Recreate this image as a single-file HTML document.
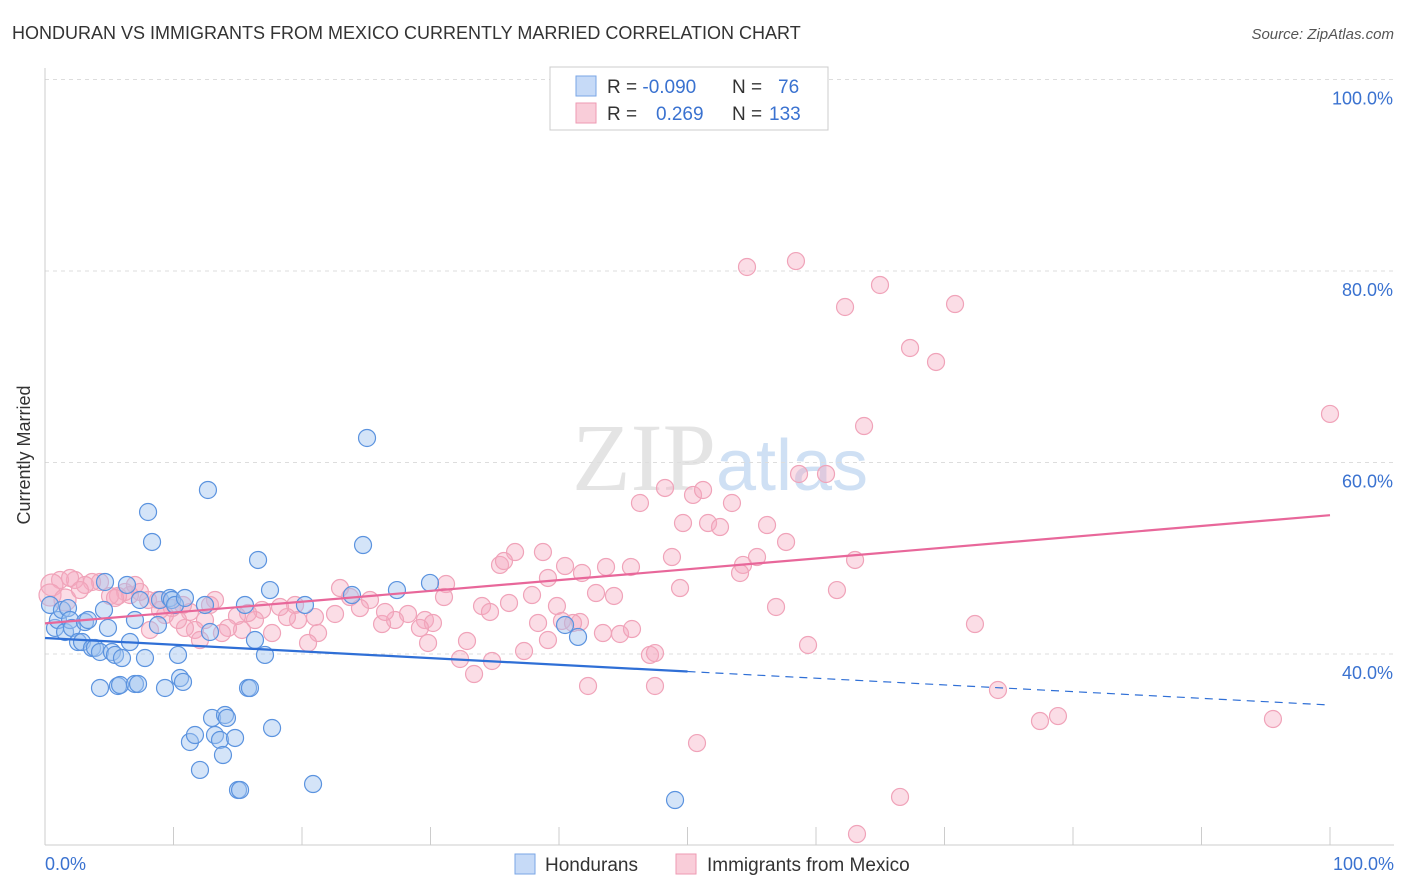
<!DOCTYPE html>
<html><head><meta charset="utf-8"><style>
body{margin:0;background:#fff;font-family:"Liberation Sans",sans-serif}
svg{display:block}
</style></head><body>
<svg id="c" width="1406" height="892" xmlns="http://www.w3.org/2000/svg">
<text x="12" y="39" font-size="18" fill="#333">HONDURAN VS IMMIGRANTS FROM MEXICO CURRENTLY MARRIED CORRELATION CHART</text>
<text x="1394" y="39" font-size="15" fill="#555" font-style="italic" text-anchor="end">Source: ZipAtlas.com</text>
<text x="720" y="490" font-size="96" fill="#e4e4e4" text-anchor="middle" font-family="Liberation Serif,serif">ZIP<tspan fill="#cfe0f4" font-family="Liberation Sans,sans-serif" font-size="72">atlas</tspan></text>
<g id="grid"></g>
<line x1="45" y1="68" x2="45" y2="845" stroke="#ccc"/>
<line x1="45" y1="845" x2="1394" y2="845" stroke="#ccc"/>
<text x="30" y="455" font-size="18" fill="#333" text-anchor="middle" transform="rotate(-90 30 455)">Currently Married</text>
<text x="45" y="870" font-size="18" fill="#3a72d0">0.0%</text>
<text x="1394" y="870" font-size="18" fill="#3a72d0" text-anchor="end">100.0%</text>
<g id="pts"></g>
<g id="lines"></g>
<g>
<rect x="550" y="67" width="278" height="63" fill="#fff" stroke="#ccc"/>
<rect x="576" y="76" width="20" height="20" fill="#c6daf7" stroke="#7aa6e6"/>
<rect x="576" y="103" width="20" height="20" fill="#f9cdd9" stroke="#ee9ab3"/>
<text x="607" y="93" font-size="19" fill="#333">R = <tspan fill="#3a72d0">-0.090</tspan><tspan x="732">N = </tspan><tspan x="778" fill="#3a72d0">76</tspan></text>
<text x="607" y="120" font-size="19" fill="#333">R = <tspan x="656" fill="#3a72d0">0.269</tspan><tspan x="732">N = </tspan><tspan x="769" fill="#3a72d0">133</tspan></text>
</g>
<g>
<rect x="515" y="854" width="20" height="20" fill="#c6daf7" stroke="#7aa6e6"/>
<text x="545" y="871" font-size="19" fill="#333">Hondurans</text>
<rect x="676" y="854" width="20" height="20" fill="#f9cdd9" stroke="#ee9ab3"/>
<text x="707" y="871" font-size="19" fill="#333">Immigrants from Mexico</text>
</g>
</svg>
<script>
const yTicks=[40,60,80,100];
const yTickLabels=["40.0%","60.0%","80.0%","100.0%"];
const xTicks=[0,10,20,30,40,50,60,70,80,90,100];
const bluePx=[50,55,58,62,65,68,70,72,78,82,85,88,92,95,100,104,108,112,115,122,105,127,130,135,140,145,148,152,158,160,165,170,172,175,178,180,183,185,190,195,200,205,208,210,212,215,220,223,225,227,235,238,240,245,248,250,255,258,265,270,272,305,313,352,363,367,397,430,565,578,675,100,118,120,135,138];
const bluePy=[605,628,620,610,632,608,620,628,642,642,622,620,648,648,652,610,628,652,655,658,582,585,642,620,600,658,512,542,625,600,688,598,600,605,655,678,682,598,742,735,770,605,490,632,718,735,740,755,715,718,738,790,790,605,688,688,640,560,655,590,728,605,784,595,545,438,590,583,625,637,800,688,686,685,684,684];
const pinkPx=[747,796,845,880,955,910,936,864,1330,799,826,640,665,693,703,683,708,720,732,767,786,672,757,743,740,855,680,837,776,808,975,998,1040,1058,1273,697,900,857,655,588,474,492,460,467,524,548,580,603,620,632,650,655,614,596,606,631,582,565,548,515,543,500,504,482,490,509,532,557,538,562,573,446,444,425,433,408,420,428,395,382,370,385,360,350,340,335,315,318,308,295,298,287,280,272,262,255,248,242,237,228,222,215,210,205,195,190,185,178,172,165,158,150,148,140,130,125,118,110,100,92,85,75,60,52,50,65,70,80,115,135,160,183,200];
const pinkPy=[267,261,307,285,304,348,362,426,414,474,474,503,488,495,490,523,523,527,503,525,542,557,557,565,573,560,588,590,607,645,624,690,721,716,719,743,797,834,686,686,674,661,659,641,651,640,622,633,634,629,655,653,596,593,567,567,573,566,578,552,552,565,561,606,612,603,595,606,623,621,623,584,597,620,623,614,628,643,620,624,600,612,608,597,588,614,617,633,643,605,620,617,607,633,610,620,613,630,616,628,633,600,605,620,630,612,628,620,608,615,600,630,600,592,595,592,596,596,582,582,585,580,580,585,595,600,578,590,598,585,610,605,640];
const blueX=bluePx.map(p=>+((p-45)/12.85).toFixed(2));
const blueY=bluePy.map(p=>+((1037-p)/9.575).toFixed(2));
const pinkX=pinkPx.map(p=>+((p-45)/12.85).toFixed(2));
const pinkY=pinkPy.map(p=>+((1037-p)/9.575).toFixed(2));
const blueFit=[41.67,34.67];
const pinkFit=[43.2,54.5];
const sx=v=>45+v*12.85, sy=v=>1037-v*9.575;
const NS="http://www.w3.org/2000/svg";
function mk(t,a,p){const e=document.createElementNS(NS,t);for(const k in a)e.setAttribute(k,a[k]);p.appendChild(e);return e;}
const grid=document.getElementById('grid');
yTicks.forEach((v,i)=>{
 const l=mk('line',{x1:45,x2:1394,y1:sy(v),y2:sy(v),stroke:'#ddd','stroke-dasharray':'4 4'},grid);
 
 
 const t=mk('text',{x:1393,y:sy(v)+25,'font-size':18,fill:'#3a72d0','text-anchor':'end'},grid);
 t.textContent=yTickLabels[i];
 
 
});
xTicks.forEach(v=>{
 const l=mk('line',{x1:sx(v),x2:sx(v),y1:827,y2:845,stroke:'#ccc'},grid);
 
 
});
const pts=document.getElementById('pts');
pinkX.forEach((x,i)=>{
 const c=mk('circle',{cx:sx(x),cy:sy(pinkY[i]),r:i>=123&&i<=125?11:8.5,fill:'rgba(246,170,192,0.4)',stroke:'#f0a3b9','stroke-width':1.2},pts);
 
 
});
blueX.forEach((x,i)=>{
 const c=mk('circle',{cx:sx(x),cy:sy(blueY[i]),r:8.5,fill:'rgba(160,196,240,0.45)',stroke:'#5b93df','stroke-width':1.2},pts);
 
 
});
const lines=document.getElementById('lines');
const bAt=x=>blueFit[0]+(blueFit[1]-blueFit[0])*x/100;
let l1=mk('line',{x1:sx(0),y1:sy(bAt(0)),x2:sx(50),y2:sy(bAt(50)),stroke:'#2f6fd6','stroke-width':2.2},lines);


let l2=mk('line',{x1:sx(50),y1:sy(bAt(50)),x2:sx(100),y2:sy(bAt(100)),stroke:'#2f6fd6','stroke-width':1.2,'stroke-dasharray':'8 6'},lines);


let l3=mk('line',{x1:sx(0),y1:sy(pinkFit[0]),x2:sx(100),y2:sy(pinkFit[1]),stroke:'#e8679a','stroke-width':2.2},lines);


</script>
</body></html>
